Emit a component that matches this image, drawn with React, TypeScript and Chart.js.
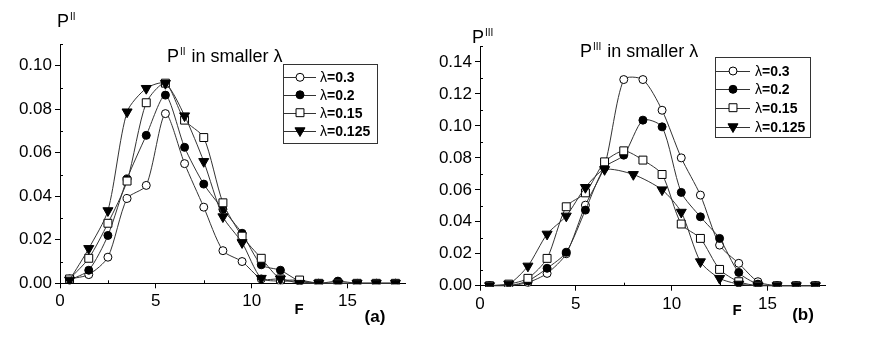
import React, { useEffect, useRef } from 'react';
import { Chart, registerables } from 'chart.js';

Chart.register(...registerables);

const FONT = "'Liberation Sans', Arial, Helvetica, sans-serif";

// ---------- data ----------
const F = [0.5, 1.5, 2.5, 3.5, 4.5, 5.5, 6.5, 7.5, 8.5, 9.5, 10.5, 11.5, 12.5, 13.5, 14.5, 15.5, 16.5, 17.5];
const F_B_0125 = [0.5, 1.5, 2.5, 3.5, 4.5, 5.5, 6.5, 8, 9.5, 10.5, 11.5, 12.5, 13.5, 14.5, 15.5, 16.5, 17.5];

// (a) P^II
const PII_03 = [0.002, 0.004, 0.012, 0.039, 0.045, 0.078, 0.055, 0.035, 0.015, 0.010, 0.002, 0.001, 0.001, 0, 0, 0, 0, 0];
const PII_02 = [0.0015, 0.006, 0.022, 0.048, 0.068, 0.0865, 0.0625, 0.0456, 0.034, 0.023, 0.0085, 0.006, 0.001, 0, 0.001, 0, 0, 0];
const PII_015 = [0.002, 0.0115, 0.0276, 0.047, 0.083, 0.092, 0.075, 0.067, 0.037, 0.0217, 0.0115, 0.002, 0.0015, 0, 0, 0, 0, 0];
const PII_0125 = [0.0015, 0.016, 0.0334, 0.0788, 0.0896, 0.0919, 0.077, 0.056, 0.0306, 0.0187, 0.0023, 0.002, 0, 0, 0, 0, 0, 0];

// (b) P^III
const PIII_03 = [0, 0, 0.002, 0.0077, 0.020, 0.0504, 0.075, 0.129, 0.129, 0.1098, 0.080, 0.0567, 0.0254, 0.014, 0.0025, 0, 0, 0];
const PIII_02 = [0, 0, 0.003, 0.0109, 0.0209, 0.0473, 0.074, 0.0817, 0.1036, 0.0994, 0.0584, 0.0431, 0.0296, 0.0083, 0.001, 0, 0, 0];
const PIII_015 = [0, 0.001, 0.0046, 0.0171, 0.0494, 0.0581, 0.0775, 0.0844, 0.0786, 0.0696, 0.0386, 0.0296, 0.0102, 0.0025, 0, 0, 0, 0];
const PIII_0125 = [0, 0.001, 0.0123, 0.0323, 0.0436, 0.0615, 0.0727, 0.0696, 0.060, 0.046, 0.015, 0.0046, 0.001, 0, 0, 0, 0];

const LAMBDAS = ['0.3', '0.2', '0.15', '0.125'];

const X_TICKS = [0, 5, 10, 15];
const X_MINOR = [2.5, 7.5, 12.5, 17.5];
const Y_TICKS_A = [0, 0.02, 0.04, 0.06, 0.08, 0.10];
const Y_MINOR_A = [0.01, 0.03, 0.05, 0.07, 0.09, 0.11];
const Y_TICKS_B = [0, 0.02, 0.04, 0.06, 0.08, 0.10, 0.12, 0.14];
const Y_MINOR_B = [0.01, 0.03, 0.05, 0.07, 0.09, 0.11, 0.13, 0.15];

// ---------- styles ----------
const STYLES = [
  { pointStyle: 'circle', bg: '#ffffff', radius: 4, rot: 0 },
  { pointStyle: 'circle', bg: '#000000', radius: 4, rot: 0 },
  { pointStyle: 'rect', bg: '#ffffff', radius: 5.6, rot: 0 },
  { pointStyle: 'triangle', bg: '#000000', radius: 5.8, rot: 180 },
];
const LINE_COLOR = '#333333';

function drawMarker(ctx: CanvasRenderingContext2D, i: number, x: number, y: number) {
  const s = STYLES[i];
  ctx.save();
  ctx.fillStyle = s.bg;
  ctx.strokeStyle = '#000';
  ctx.lineWidth = 1;
  ctx.beginPath();
  if (s.pointStyle === 'circle') {
    ctx.arc(x, y, s.radius, 0, Math.PI * 2);
  } else if (s.pointStyle === 'rect') {
    const h = s.radius * Math.SQRT1_2;
    ctx.rect(x - h, y - h, 2 * h, 2 * h);
  } else {
    const r = s.radius;
    const a = Math.PI;
    for (let k = 0; k < 3; k++) {
      const ang = a + (k * 2 * Math.PI) / 3;
      const px = x + Math.sin(ang) * r;
      const py = y - Math.cos(ang) * r;
      if (k === 0) ctx.moveTo(px, py); else ctx.lineTo(px, py);
    }
    ctx.closePath();
  }
  ctx.fill();
  ctx.stroke();
  ctx.restore();
}

function txt(ctx: CanvasRenderingContext2D, s: string, x: number, y: number, font: string, align: CanvasTextAlign = 'left', baseline: CanvasTextBaseline = 'alphabetic') {
  ctx.font = font;
  ctx.textAlign = align;
  ctx.textBaseline = baseline;
  ctx.fillStyle = '#000';
  ctx.fillText(s, x, y);
  return ctx.measureText(s).width;
}

type Decor = {
  yMinor: number[];
  yLabel: { x: number; y: number; sup: string };
  title: { x: number; y: number; sup: string };
  fLabel: { x: number; y: number };
  tag: { x: number; y: number; text: string };
  legend: { x: number; y: number; w: number; h: number; rows: number[]; lx0: number; lx1: number; mx: number; tx: number };
};

function decorPlugin(d: Decor) {
  return {
    id: 'decor',
    afterDraw(chart: any) {
      const ctx: CanvasRenderingContext2D = chart.ctx;
      const xs = chart.scales.x;
      const ys = chart.scales.y;
      ctx.save();
      ctx.strokeStyle = '#000';
      ctx.lineWidth = 1;
      ctx.beginPath();
      const by = ys.getPixelForValue(0);
      const lx = xs.getPixelForValue(0);
      for (const v of X_MINOR) {
        const px = Math.round(xs.getPixelForValue(v)) + 0.5;
        ctx.moveTo(px, by);
        ctx.lineTo(px, by - 3);
      }
      for (const v of d.yMinor) {
        const py = Math.round(ys.getPixelForValue(v)) + 0.5;
        ctx.moveTo(lx, py);
        ctx.lineTo(lx + 3, py);
      }
      ctx.stroke();

      // y label P^..
      let w = txt(ctx, 'P', d.yLabel.x, d.yLabel.y, `18px ${FONT}`);
      txt(ctx, d.yLabel.sup, d.yLabel.x + w + 1, d.yLabel.y - 7, `10px ${FONT}`);

      // title
      w = txt(ctx, 'P', d.title.x, d.title.y, `18px ${FONT}`);
      const w2 = txt(ctx, d.title.sup, d.title.x + w + 1, d.title.y - 7, `10px ${FONT}`);
      txt(ctx, ' in smaller λ', d.title.x + w + w2 + 2, d.title.y, `18px ${FONT}`);

      // F and tag
      txt(ctx, 'F', d.fLabel.x, d.fLabel.y, `bold 15px ${FONT}`, 'center', 'middle');
      txt(ctx, d.tag.text, d.tag.x, d.tag.y, `bold 17px ${FONT}`, 'center', 'middle');

      // legend
      const L = d.legend;
      ctx.fillStyle = '#fff';
      ctx.fillRect(L.x, L.y, L.w, L.h);
      ctx.strokeStyle = '#333';
      ctx.lineWidth = 1;
      ctx.strokeRect(L.x + 0.5, L.y + 0.5, L.w, L.h);
      L.rows.forEach((ry, i) => {
        ctx.strokeStyle = LINE_COLOR;
        ctx.beginPath();
        ctx.moveTo(L.lx0, Math.round(ry) + 0.5);
        ctx.lineTo(L.lx1, Math.round(ry) + 0.5);
        ctx.stroke();
        drawMarker(ctx, i, L.mx, ry);
        const lw = txt(ctx, 'λ', L.tx, ry + 5, `14px ${FONT}`);
        txt(ctx, '=' + LAMBDAS[i], L.tx + lw, ry + 5, `bold 14px ${FONT}`);
      });
      ctx.restore();
    },
  };
}

function makeDatasets(series: { xs: number[]; ys: number[] }[]) {
  return series.map((s, i) => ({
    label: 'λ=' + LAMBDAS[i],
    data: s.xs.map((x, k) => ({ x, y: s.ys[k] })),
    order: series.length - 1 - i,
    borderColor: LINE_COLOR,
    borderWidth: 1,
    backgroundColor: STYLES[i].bg,
    pointStyle: STYLES[i].pointStyle,
    pointRadius: STYLES[i].radius,
    pointRotation: STYLES[i].rot,
    pointBackgroundColor: STYLES[i].bg,
    pointBorderColor: '#000',
    pointBorderWidth: 1,
    tension: 0.25,
    fill: false,
    clip: { left: 10, right: 10, top: 10, bottom: 1 },
  }));
}

function makeConfig(opts: {
  series: { xs: number[]; ys: number[] }[];
  yMax: number;
  yTicks: number[];
  top: number;
  right: number;
  yWidth: number;
  xHeight: number;
  decor: Decor;
}) {
  return {
    type: 'line',
    data: { datasets: makeDatasets(opts.series) },
    options: {
      animation: false,
      responsive: false,
      events: [],
      layout: { padding: { left: 0, top: opts.top, right: opts.right, bottom: 0 } },
      plugins: { legend: { display: false }, title: { display: false }, tooltip: { enabled: false } },
      scales: {
        x: {
          type: 'linear',
          min: 0,
          max: 18,
          afterBuildTicks: (s: any) => { s.ticks = X_TICKS.map((v) => ({ value: v })); },
          afterFit: (s: any) => { s.height = opts.xHeight; },
          grid: { display: true, drawOnChartArea: false, drawTicks: true, tickLength: 5, color: '#000', lineWidth: 1 },
          border: { display: true, color: '#000', width: 1 },
          ticks: { padding: 3, color: '#000', font: { size: 17, family: FONT }, maxRotation: 0, autoSkip: false, callback: (v: any) => String(v) },
        },
        y: {
          type: 'linear',
          min: 0,
          max: opts.yMax,
          afterBuildTicks: (s: any) => { s.ticks = opts.yTicks.map((v) => ({ value: v })); },
          afterFit: (s: any) => { s.width = opts.yWidth; },
          grid: { display: true, drawOnChartArea: false, drawTicks: true, tickLength: 5, color: '#000', lineWidth: 1 },
          border: { display: true, color: '#000', width: 1 },
          ticks: { padding: 3, color: '#000', font: { size: 17, family: FONT }, autoSkip: false, callback: (v: any) => Number(v).toFixed(2) },
        },
      },
    },
    plugins: [decorPlugin(opts.decor)],
  } as any;
}

export default function App() {
  const leftRef = useRef<HTMLCanvasElement>(null);
  const rightRef = useRef<HTMLCanvasElement>(null);

  useEffect(() => {
    Chart.defaults.font.family = FONT;
    const left = new Chart(leftRef.current as HTMLCanvasElement, makeConfig({
      series: [
        { xs: F, ys: PII_03 },
        { xs: F, ys: PII_02 },
        { xs: F, ys: PII_015 },
        { xs: F, ys: PII_0125 },
      ],
      yMax: 0.11,
      yTicks: Y_TICKS_A,
      top: 44,
      right: 32,
      yWidth: 60,
      xHeight: 60.7,
      decor: {
        yMinor: Y_MINOR_A,
        yLabel: { x: 57, y: 27, sup: 'II' },
        title: { x: 167, y: 62, sup: 'II' },
        fLabel: { x: 299, y: 310 },
        tag: { x: 375, y: 317, text: '(a)' },
        legend: { x: 283, y: 64, w: 94, h: 79, rows: [77.3, 94.8, 112.7, 130.7], lx0: 283, lx1: 316, mx: 300, tx: 320 },
      },
    }));
    const right = new Chart(rightRef.current as HTMLCanvasElement, makeConfig({
      series: [
        { xs: F, ys: PIII_03 },
        { xs: F, ys: PIII_02 },
        { xs: F, ys: PIII_015 },
        { xs: F_B_0125, ys: PIII_0125 },
      ],
      yMax: 0.15,
      yTicks: Y_TICKS_B,
      top: 46,
      right: 50,
      yWidth: 43,
      xHeight: 58.3,
      decor: {
        yMinor: Y_MINOR_B,
        yLabel: { x: 35, y: 43, sup: 'III' },
        title: { x: 143, y: 57, sup: 'III' },
        fLabel: { x: 300, y: 311 },
        tag: { x: 366, y: 315, text: '(b)' },
        legend: { x: 278, y: 57, w: 95, h: 80, rows: [71, 89.3, 107.7, 126.7], lx0: 278, lx1: 313, mx: 296, tx: 318 },
      },
    }));
    return () => {
      left.destroy();
      right.destroy();
    };
  }, []);

  return (
    <div style={{ position: 'absolute', left: 0, top: 0, width: 875, height: 344, background: '#fff' }}>
      <canvas ref={leftRef} width={437} height={344} style={{ position: 'absolute', left: 0, top: 0, width: 437, height: 344 }} />
      <canvas ref={rightRef} width={438} height={344} style={{ position: 'absolute', left: 437, top: 0, width: 438, height: 344 }} />
    </div>
  );
}
